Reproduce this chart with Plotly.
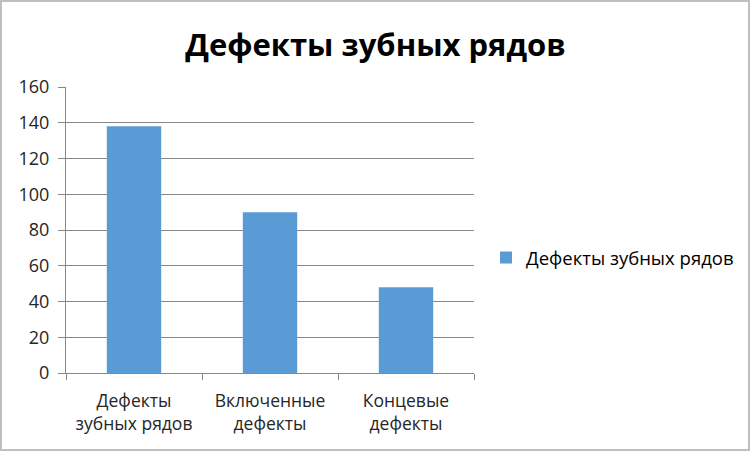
import plotly.graph_objects as go

categories = ["Дефекты<br>зубных рядов", "Включенные<br>дефекты", "Концевые<br>дефекты"]
values = [138, 90, 48]
series_name = "Дефекты зубных рядов"
title_text = "Дефекты зубных рядов"
y_ticks = [0, 20, 40, 60, 80, 100, 120, 140, 160]

W, H = 751, 452
L, R, T, B = 66, 277, 87, 79
pw, ph = W - L - R, H - T - B

FONT = "Open Sans"

fig = go.Figure()
fig.add_trace(go.Bar(
    x=categories, y=values, name=series_name,
    marker=dict(color="#5B9BD5", line=dict(width=0)),
    width=0.4, showlegend=True,
))

fig.update_layout(
    width=W, height=H,
    margin=dict(l=L, r=R, t=T, b=B, autoexpand=False),
    paper_bgcolor="white", plot_bgcolor="white",
    title=dict(text="<b>" + title_text + "</b>", x=0.5, xanchor="center",
               y=1 - 45 / H, yanchor="middle",
               font=dict(family=FONT, size=31, color="black")),
    font=dict(family=FONT, color="#262626"),
    showlegend=True,
    legend=dict(x=(486 - L) / pw, xanchor="left", y=(373 - 258) / ph, yanchor="middle",
                font=dict(family=FONT, size=18.5, color="black"),
                itemwidth=30, bgcolor="rgba(0,0,0,0)"),
)
fig.update_xaxes(
    showline=True, linecolor="#878787", linewidth=1,
    ticks="outside", tickson="boundaries", ticklen=6, tickcolor="#878787",
    ticklabelstandoff=12,
    tickfont=dict(family=FONT, size=17.5, color="#262626"),
    showgrid=False, fixedrange=True,
)
fig.update_yaxes(
    range=[0, 160], tickvals=y_ticks,
    showline=True, linecolor="#878787", linewidth=1,
    ticks="outside", ticklen=7, tickcolor="#878787",
    ticklabelstandoff=5,
    showgrid=True, gridcolor="#878787", gridwidth=1,
    zeroline=False,
    tickfont=dict(family=FONT, size=18, color="#262626"),
    fixedrange=True,
)
fig.add_shape(type="rect", xref="paper", yref="paper",
              x0=(1 - L) / pw, x1=(W - 2 - L) / pw,
              y0=(H - B - (H - 2)) / ph, y1=(H - B - 1) / ph,
              line=dict(color="#BFBFBF", width=2), fillcolor="rgba(0,0,0,0)", layer="below")

fig.write_html("out.html", config={"displayModeBar": False},
               post_script="document.body.style.margin='0';document.body.style.overflow='hidden';")
